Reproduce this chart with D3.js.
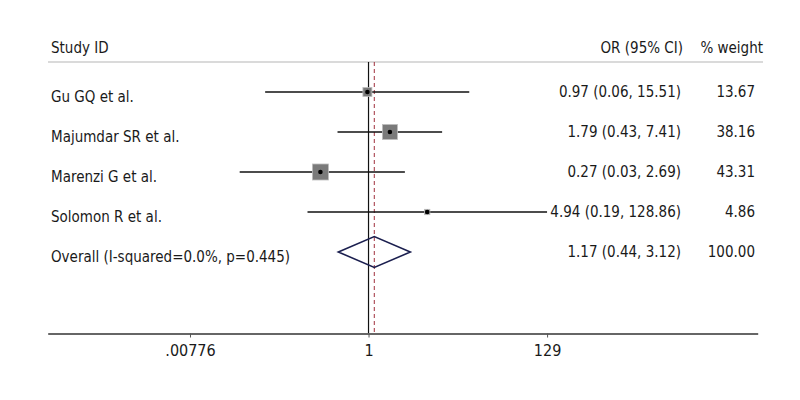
<!DOCTYPE html>
<html>
<head>
<meta charset="utf-8">
<script src="https://cdn.jsdelivr.net/npm/d3@7"></script>
<style>
  body { margin: 0; background: #fff; }
  svg text { font-family: "Liberation Sans Narrow", "DejaVu Sans Condensed", "Roboto", sans-serif; fill: #1a1a1a; }
</style>
</head>
<body>
<svg id="chart" width="800" height="400"></svg>
<script>
const studies = ["Gu GQ et al.", "Majumdar SR et al.", "Marenzi G et al.", "Solomon R et al."];
const orValues = [0.97, 1.79, 0.27, 4.94];
const ciLower = [0.06, 0.43, 0.03, 0.19];
const ciUpper = [15.51, 7.41, 2.69, 128.86];
const weights = [13.67, 38.16, 43.31, 4.86];
const overallLabel = "Overall (I-squared=0.0%, p=0.445)";
const overall = { or: 1.17, lo: 0.44, hi: 3.12, weight: 100.00 };
const tickValues = [0.00776, 1, 129];
const tickLabels = [".00776", "1", "129"];
const headers = ["Study ID", "OR (95% CI)", "% weight"];

const svg = d3.select("#chart");
const fmt = d3.format(".2f");

const x = d3.scaleLog().domain([0.0001614, 39810]).range([47.7, 757.7]);
const rows = studies.concat([overallLabel]);
const y = d3.scalePoint().domain(rows).range([92, 252]);
const side = d3.scaleSqrt().domain([0, 43.31]).range([0, 16]);

const axisY = 333.5;
const headerY = 62;

// header
svg.append("text").attr("x", 51).attr("y", 53).style("font-size", "15px").text(headers[0]);
svg.append("text").attr("x", 683).attr("y", 53).attr("text-anchor", "end").style("font-size", "15px").text(headers[1]);
svg.append("text").attr("x", 763).attr("y", 53).attr("text-anchor", "end").style("font-size", "15px").text(headers[2]);
svg.append("line").attr("x1", 48).attr("x2", 763).attr("y1", headerY).attr("y2", headerY)
  .attr("stroke", "#b5b5b5").attr("stroke-width", 1);

// null line
svg.append("line").attr("x1", x(1)).attr("x2", x(1)).attr("y1", headerY).attr("y2", axisY)
  .attr("stroke", "#111").attr("stroke-width", 1.2);
// overall dashed line
svg.append("line").attr("x1", x(overall.or)).attr("x2", x(overall.or)).attr("y1", headerY).attr("y2", axisY)
  .attr("stroke", "#a0303c").attr("stroke-width", 1).attr("stroke-dasharray", "4,3");

// study rows
studies.forEach((s, i) => {
  const yy = y(s);
  svg.append("line").attr("x1", x(ciLower[i])).attr("x2", x(ciUpper[i])).attr("y1", yy).attr("y2", yy)
    .attr("stroke", "#111").attr("stroke-width", 1.3);
  const w = side(weights[i]);
  svg.append("rect").attr("x", x(orValues[i]) - w / 2).attr("y", yy - w / 2).attr("width", w).attr("height", w)
    .attr("fill", "#7a7a7a").attr("stroke", "#bdbdbd").attr("stroke-width", 0.8);
  svg.append("circle").attr("cx", x(orValues[i])).attr("cy", yy).attr("r", 2.3).attr("fill", "#000");
  svg.append("text").attr("x", 51).attr("y", yy + 10).style("font-size", "15px").text(s);
  svg.append("text").attr("x", 681).attr("y", yy + 5).attr("text-anchor", "end").style("font-size", "15px")
    .text(`${fmt(orValues[i])} (${fmt(ciLower[i])}, ${fmt(ciUpper[i])})`);
  svg.append("text").attr("x", 755).attr("y", yy + 5).attr("text-anchor", "end").style("font-size", "15px")
    .text(fmt(weights[i]));
});

// overall diamond
const oy = y(overallLabel);
const dh = 15.5;
svg.append("path")
  .attr("d", `M${x(overall.lo)},${oy} L${x(overall.or)},${oy - dh} L${x(overall.hi)},${oy} L${x(overall.or)},${oy + dh} Z`)
  .attr("fill", "none").attr("stroke", "#1b1f4f").attr("stroke-width", 1.6);
svg.append("text").attr("x", 51).attr("y", oy + 10).style("font-size", "15px").text(overallLabel);
svg.append("text").attr("x", 681).attr("y", oy + 5).attr("text-anchor", "end").style("font-size", "15px")
  .text(`${fmt(overall.or)} (${fmt(overall.lo)}, ${fmt(overall.hi)})`);
svg.append("text").attr("x", 755).attr("y", oy + 5).attr("text-anchor", "end").style("font-size", "15px")
  .text(fmt(overall.weight));

// axis
const axis = d3.axisBottom(x).tickValues(tickValues).tickFormat((d, i) => tickLabels[i]).tickSize(4).tickSizeOuter(0);
const g = svg.append("g").attr("transform", `translate(0,${axisY})`).call(axis);
g.select(".domain").attr("stroke", "#666").attr("stroke-width", 2);
g.selectAll(".tick line").attr("stroke", "#555");
g.selectAll(".tick text").style("font-size", "16px").attr("fill", "#1a1a1a").attr("dy", "0.9em").attr("y", 8);
</script>
</body>
</html>
